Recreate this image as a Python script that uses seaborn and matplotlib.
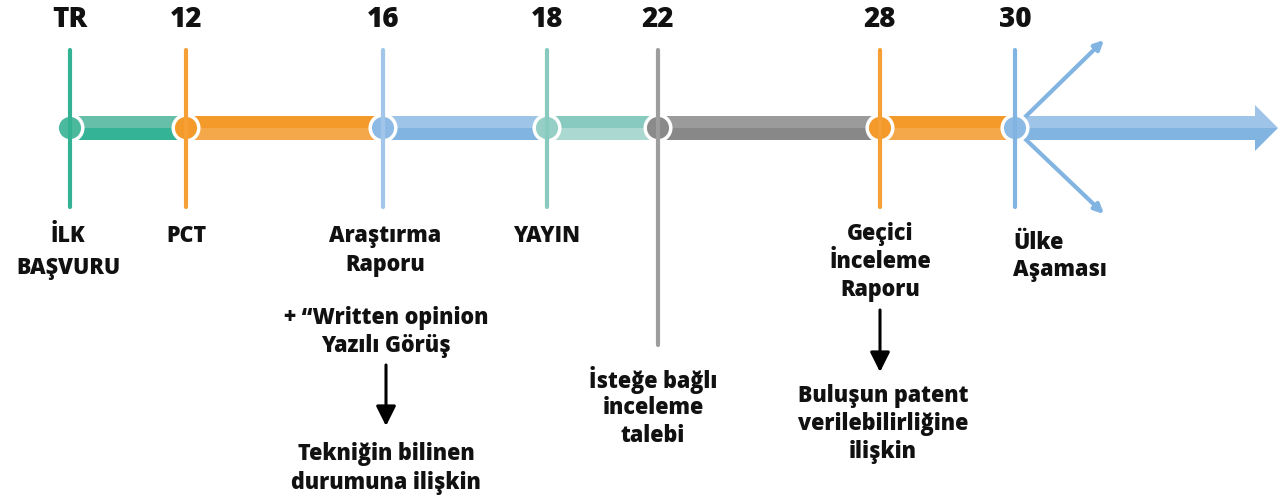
import matplotlib
matplotlib.use("Agg")
import matplotlib.pyplot as plt
import seaborn as sns
import pandas as pd
from matplotlib.patches import Polygon

# ---- data ----
months = ["TR", "12", "16", "18", "22", "28", "30"]
stage_labels = [["İLK", "BAŞVURU"], ["PCT"], ["Araştırma", "Raporu"], ["YAYIN"],
                ["İsteğe bağlı", "inceleme", "talebi"], ["Geçici", "İnceleme", "Raporu"],
                ["Ülke", "Aşaması"]]
note_16_top = ["+ “Written opinion", "Yazılı Görüş"]
note_16_bottom = ["Tekniğin bilinen", "durumuna ilişkin"]
note_28_bottom = ["Buluşun patent", "verilebilirliğine", "ilişkin"]

# ---- layout / style ----
xpos = [70, 186, 383, 547, 658, 880, 1015]
tick_colors = ["#33b294", "#f59f35", "#a1c6ea", "#88cac0", "#9d9d9d", "#f59f35", "#82b4e1"]
node_colors = ["#4bb99e", "#f39a2b", "#8dbae4", "#95cfc6", "#8a8a8a", "#f39a2b", "#8dbae4"]
seg_upper = ["#66bfa8", "#f39a2b", "#9ec4e8", "#88cac0", "#9b9b9b", "#f39a2b", "#9ec4e8"]
seg_lower = ["#34b396", "#f5a84a", "#82b4e1", "#abd8d1", "#888888", "#f5a84a", "#82b4e1"]

sns.set_theme(style="white")
plt.rcParams['font.family'] = ['Open Sans', 'DejaVu Sans']

fig = plt.figure(figsize=(12.83, 4.99), dpi=100)
ax = fig.add_axes([0, 0, 1, 1])
ax.set_xlim(0, 1283)
ax.set_ylim(499, 0)
ax.axis("off")

bar_top, bar_mid, bar_bot = 116, 128, 140
shaft_end, tip = 1256, 1278

ends = xpos[1:] + [shaft_end]
for x0, x1, cu, cl in zip(xpos, ends, seg_upper, seg_lower):
    ax.fill_between([x0, x1], bar_top, bar_mid, color=cu, lw=0, zorder=1)
    ax.fill_between([x0, x1], bar_mid, bar_bot, color=cl, lw=0, zorder=1)
ax.add_patch(Polygon([[shaft_end - 1, 105], [tip, bar_mid], [shaft_end - 1, bar_mid]],
                     closed=True, color=seg_upper[-1], lw=0, zorder=1))
ax.add_patch(Polygon([[shaft_end - 1, 151], [tip, bar_mid], [shaft_end - 1, bar_mid]],
                     closed=True, color=seg_lower[-1], lw=0, zorder=1))

for y_end, y_start in [(40, 122), (214, 134)]:
    ax.annotate("", xy=(1104, y_end), xytext=(1020, y_start),
                arrowprops=dict(arrowstyle="-|>,head_length=0.45,head_width=0.22",
                                color="#82b4e1", lw=3.0, shrinkA=0, shrinkB=0), zorder=2)

nodes = pd.DataFrame({"x": xpos, "y": [bar_mid] * len(xpos), "m": months})
sns.scatterplot(data=nodes, x="x", y="y", hue="m", palette=dict(zip(months, node_colors)),
                s=340, edgecolor="white", linewidth=2.5, legend=False, ax=ax, zorder=3)

for i, (x, c) in enumerate(zip(xpos, tick_colors)):
    y1 = 345 if months[i] == "22" else 207
    ax.plot([x, x], [50, y1], color=c, lw=3.0, solid_capstyle="round", zorder=4)

for x, m in zip(xpos, months):
    ax.text(x, 19, m, ha="center", va="center", fontsize=20, fontweight="heavy", color="#111111")

def lines(x, y0, txt, ha="center", step=28.5):
    for k, t in enumerate(txt):
        ax.text(x, y0 + k * step, t, ha=ha, va="center", fontsize=15.5,
                fontweight="heavy", color="#111111")

label_x = [68, 186, 385, 547, 653, 880, 1013]
label_y = [236, 236, 236, 236, 380, 234, 243]
label_ha = ["center"] * 6 + ["left"]
label_step = [32, 28.5, 29, 28.5, 28, 28, 27]
for x, y, t, h, st in zip(label_x, label_y, stage_labels, label_ha, label_step):
    lines(x, y, t, ha=h, step=st)

lines(386, 318, note_16_top)
lines(386, 454, note_16_bottom, step=29)
lines(883, 396, note_28_bottom, step=28)

for x, ys, ye in [(386, 365, 426), (880, 310, 372)]:
    ax.annotate("", xy=(x, ye), xytext=(x, ys),
                arrowprops=dict(arrowstyle="-|>,head_length=1.0,head_width=0.5",
                                color="black", lw=2.2, shrinkA=0, shrinkB=0))

fig.savefig("out.png", dpi=100, facecolor="white")
